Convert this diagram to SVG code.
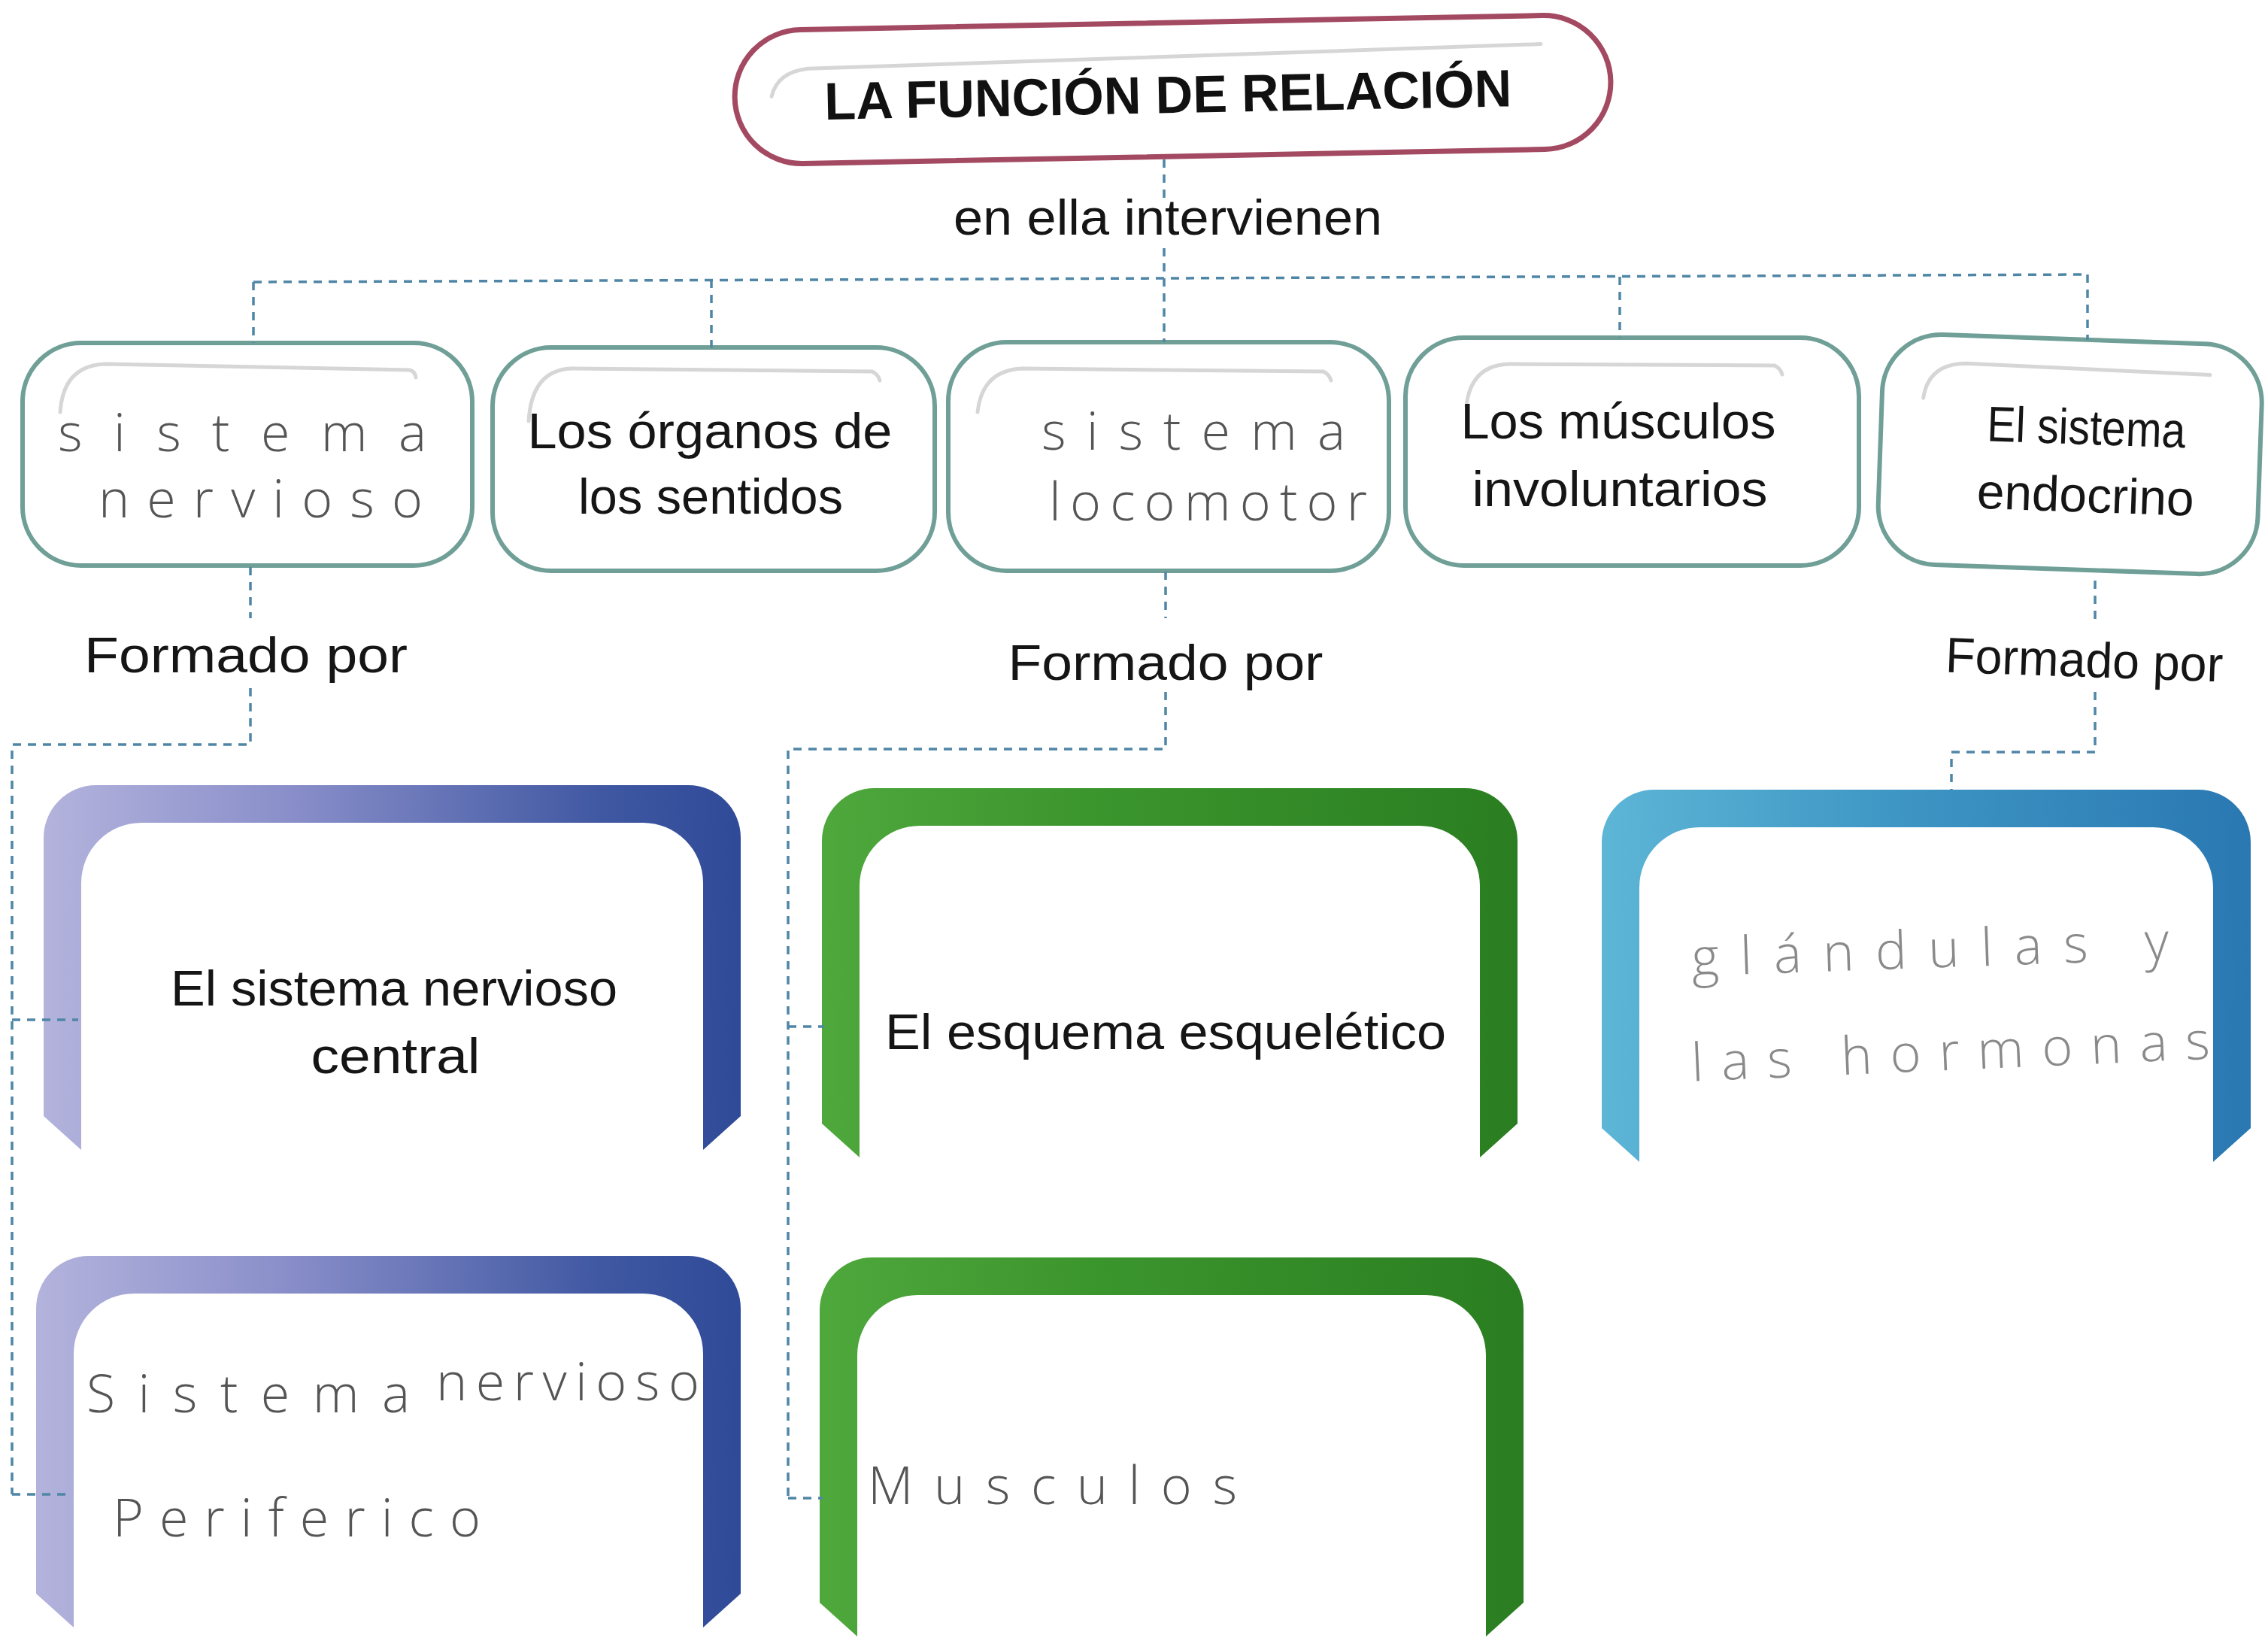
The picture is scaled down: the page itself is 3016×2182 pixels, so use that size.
<svg xmlns="http://www.w3.org/2000/svg" width="3016" height="2182" viewBox="0 0 3016 2182">
<defs>
<style>
.conn{fill:none;stroke:#4f86a6;stroke-width:3.5;stroke-dasharray:11 9}
.topbox{fill:#ffffff;stroke:#6f9f96;stroke-width:6}
.deco{fill:none;stroke:#d6d6d6;stroke-width:5;stroke-linecap:round}
.print{font-family:"Liberation Sans",Arial,sans-serif;fill:#151515;font-size:66px}
.title{font-family:"Liberation Sans",Arial,sans-serif;fill:#111111;font-size:70px;font-weight:bold}
.hand{font-family:"Open Sans","DejaVu Sans",sans-serif;font-weight:300;fill:#555555;font-size:70px}
.faint{fill:#8a8a8a}
</style>
<linearGradient id="gBlue" x1="0" y1="0" x2="1" y2="0">
<stop offset="0" stop-color="#b3b3dc"/>
<stop offset="0.35" stop-color="#8a8fca"/>
<stop offset="0.8" stop-color="#4058a2"/>
<stop offset="1" stop-color="#2f4a98"/>
</linearGradient>
<linearGradient id="gGreen" x1="0" y1="0" x2="1" y2="0">
<stop offset="0" stop-color="#4ea83c"/>
<stop offset="0.4" stop-color="#3b952d"/>
<stop offset="1" stop-color="#2a7e21"/>
</linearGradient>
<linearGradient id="gTeal" x1="0" y1="0" x2="1" y2="0">
<stop offset="0" stop-color="#5db6d6"/>
<stop offset="0.45" stop-color="#3e96c4"/>
<stop offset="1" stop-color="#2a78b2"/>
</linearGradient>
</defs>
<rect width="3016" height="2182" fill="#ffffff"/>

<g id="title" transform="rotate(-1.1 1560 118)">
<rect x="977" y="30" width="1165" height="178" rx="89" fill="#ffffff" stroke="#a34a62" stroke-width="7"/>
<path class="deco" d="M1026,118 Q1034,86 1075,82 L2050,68"/>
<text class="title" x="1553" y="150" text-anchor="middle" textLength="914" lengthAdjust="spacingAndGlyphs">LA FUNCIÓN DE RELACIÓN</text>
</g>

<g id="n-sistema-nervioso">
<rect class="topbox" x="30" y="456" width="598" height="296" rx="78"/>
<path class="deco" d="M80,548 Q84,486 140,484 L545,492 Q552,494 553,502"/>
<text class="hand" x="77" y="600" textLength="490" lengthAdjust="spacing">sistema</text>
<text class="hand" x="131" y="688" textLength="431" lengthAdjust="spacing">nervioso</text>
</g>

<g id="n-organos">
<rect class="topbox" x="655" y="462" width="588" height="297" rx="78"/>
<path class="deco" d="M703,560 Q707,492 760,490 L1160,494 Q1168,498 1170,506"/>
<text class="print" x="944" y="596" text-anchor="middle" textLength="485" lengthAdjust="spacingAndGlyphs">Los órganos de</text>
<text class="print" x="945" y="683" text-anchor="middle" textLength="352" lengthAdjust="spacingAndGlyphs">los sentidos</text>
</g>

<g id="n-locomotor">
<rect class="topbox" x="1261" y="455" width="586" height="304" rx="78"/>
<path class="deco" d="M1300,548 Q1306,492 1360,490 L1760,494 Q1768,498 1770,506"/>
<text class="hand" x="1385" y="598" textLength="404" lengthAdjust="spacing">sistema</text>
<text class="hand" x="1395" y="692" textLength="423" lengthAdjust="spacing">locomotor</text>
</g>

<g id="n-musculos-involuntarios">
<rect class="topbox" x="1869" y="449" width="603" height="303" rx="78"/>
<path class="deco" d="M1950,540 Q1956,484 2010,484 L2360,486 Q2368,490 2370,498"/>
<text class="print" x="2152" y="583" text-anchor="middle" textLength="419" lengthAdjust="spacingAndGlyphs">Los músculos</text>
<text class="print" x="2154" y="673" text-anchor="middle" textLength="393" lengthAdjust="spacingAndGlyphs">involuntarios</text>
</g>

<g id="n-endocrino" transform="rotate(2 2750 610)">
<rect class="topbox" x="2500" y="451" width="505" height="306" rx="78"/>
<path class="deco" d="M2555,536 Q2560,490 2610,488 L2935,492"/>
<text class="print" x="2773" y="590" text-anchor="middle" textLength="264" lengthAdjust="spacingAndGlyphs" font-size="60">El sistema</text>
<text class="print" x="2775" y="680" text-anchor="middle" textLength="289" lengthAdjust="spacingAndGlyphs" font-size="60">endocrino</text>
</g>

<g id="n-snc">
<path fill="url(#gBlue)" d="M58,1484 L58,1114 A70,70 0 0 1 128,1044 L915,1044 A70,70 0 0 1 985,1114 L985,1484 L935,1529 L935,1174 A80,80 0 0 0 855,1094 L188,1094 A80,80 0 0 0 108,1174 L108,1529 Z"/>
<text class="print" x="524" y="1337" text-anchor="middle" textLength="594" lengthAdjust="spacingAndGlyphs">El sistema nervioso</text>
<text class="print" x="526" y="1427" text-anchor="middle" textLength="225" lengthAdjust="spacingAndGlyphs">central</text>
</g>

<g id="n-snp">
<path fill="url(#gBlue)" d="M48,2119 L48,1740 A70,70 0 0 1 118,1670 L915,1670 A70,70 0 0 1 985,1740 L985,2119 L935,2164 L935,1800 A80,80 0 0 0 855,1720 L178,1720 A80,80 0 0 0 98,1800 L98,2164 Z"/>
<text class="hand" x="115" y="1878" textLength="430" lengthAdjust="spacing" font-size="92">Sistema</text>
<text class="hand" x="580" y="1862" textLength="350" lengthAdjust="spacing" font-size="68">nervioso</text>
<text class="hand" x="150" y="2043" textLength="489" lengthAdjust="spacing" font-size="86">Periferico</text>
</g>

<g id="n-esqueletico">
<path fill="url(#gGreen)" d="M1093,1494 L1093,1118 A70,70 0 0 1 1163,1048 L1948,1048 A70,70 0 0 1 2018,1118 L2018,1494 L1968,1539 L1968,1178 A80,80 0 0 0 1888,1098 L1223,1098 A80,80 0 0 0 1143,1178 L1143,1539 Z"/>
<text class="print" x="1550" y="1395" text-anchor="middle" textLength="746" lengthAdjust="spacingAndGlyphs">El esquema esquelético</text>
</g>

<g id="n-musculos">
<path fill="url(#gGreen)" d="M1090,2131 L1090,1742 A70,70 0 0 1 1160,1672 L1956,1672 A70,70 0 0 1 2026,1742 L2026,2131 L1976,2176 L1976,1802 A80,80 0 0 0 1896,1722 L1220,1722 A80,80 0 0 0 1140,1802 L1140,2176 Z"/>
<text class="hand" x="1154" y="2000" textLength="491" lengthAdjust="spacing" font-size="92">Musculos</text>
</g>

<g id="n-glandulas">
<path fill="url(#gTeal)" d="M2130,1500 L2130,1120 A70,70 0 0 1 2200,1050 L2923,1050 A70,70 0 0 1 2993,1120 L2993,1500 L2943,1545 L2943,1180 A80,80 0 0 0 2863,1100 L2260,1100 A80,80 0 0 0 2180,1180 L2180,1545 Z"/>
<text class="hand faint" x="2250" y="1287" textLength="635" lengthAdjust="spacing" font-size="86" transform="rotate(-2 2560 1287)">glándulas y</text>
<text class="hand faint" x="2250" y="1423" textLength="690" lengthAdjust="spacing" font-size="86" transform="rotate(-2.5 2590 1423)">las hormonas</text>
</g>

<g id="connectors">
<path class="conn" d="M1548,212 V268"/>
<path class="conn" d="M1548,330 V455"/>
<path class="conn" d="M337,375 L2776,365"/>
<path class="conn" d="M337,375 V456"/>
<path class="conn" d="M946,372 V462"/>
<path class="conn" d="M2154,368 V449"/>
<path class="conn" d="M2776,365 V452"/>
<path class="conn" d="M333,754 V822"/>
<path class="conn" d="M333,915 V990 H16 V1987"/>
<path class="conn" d="M16,1356 H104"/>
<path class="conn" d="M16,1987 H94"/>
<path class="conn" d="M1550,760 V822"/>
<path class="conn" d="M1550,920 V996 H1048 V1992"/>
<path class="conn" d="M1048,1365 H1096"/>
<path class="conn" d="M1048,1992 H1094"/>
<path class="conn" d="M2786,772 V826"/>
<path class="conn" d="M2786,920 V1000 H2595 V1050"/>
<text class="print" x="1553" y="312" text-anchor="middle" textLength="570" lengthAdjust="spacingAndGlyphs">en ella intervienen</text>
<text class="print" x="327" y="894" text-anchor="middle" textLength="430" lengthAdjust="spacingAndGlyphs">Formado por</text>
<text class="print" x="1550" y="904" text-anchor="middle" textLength="419" lengthAdjust="spacingAndGlyphs">Formado por</text>
<text class="print" x="2771" y="900" text-anchor="middle" textLength="369" lengthAdjust="spacingAndGlyphs" font-size="62" transform="rotate(2 2771 900)">Formado por</text>
</g>
</svg>
